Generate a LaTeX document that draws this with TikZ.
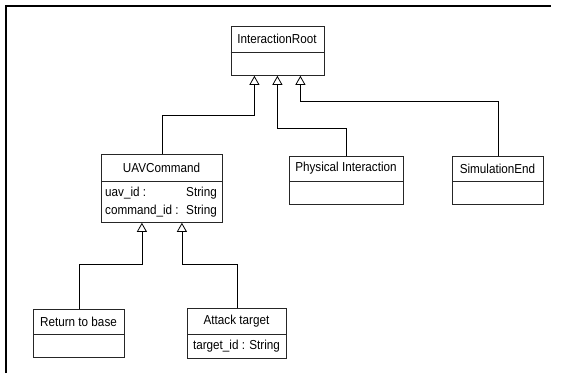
\documentclass[tikz,border=0pt]{standalone}
\usepackage{fontspec}
\setmainfont{Liberation Sans}
\usepackage{graphicx}
\usetikzlibrary{arrows.meta}
\newcommand\tx[1]{\scalebox{0.9}[1]{#1}}
\tikzset{
  cls/.style={draw=black!85, line width=0.8pt, rectangle, inner sep=0pt, anchor=north west},
  ttl/.style={inner sep=0pt, font=\fontsize{13}{15}\selectfont},
  attr/.style={inner sep=0pt, font=\fontsize{13}{15}\selectfont},
  inh/.style={draw=black, line width=0.8pt, -{Triangle[open, width=10pt, length=9pt, line width=0.8pt]}},
  comp/.style={draw=black!85, line width=0.8pt}
}
\begin{document}
\begin{tikzpicture}[x=1pt,y=-1pt]
\useasboundingbox (0,0) rectangle (561,373);
% frame
\draw[line width=2pt] (6,373) -- (6,6) -- (551,6);

% InteractionRoot
\node[cls, minimum width=93pt, minimum height=49pt] (root) at (230.5,26) {};
\node[ttl] (rootT) at (277,39) {\tx{InteractionRoot}};
\draw[comp] (230.5,52) -- (323.5,52);

% UAVCommand
\node[cls, minimum width=121pt, minimum height=68pt] (uav) at (101,154) {};
\node[ttl] (uavT) at (161.5,167.5) {\tx{UAVCommand}};
\draw[comp] (101,181) -- (222,181);
\node[attr, anchor=west] (uavA1) at (105,193.5) {\tx{uav\_id :}};
\node[attr, anchor=east] (uavA1t) at (217,193.5) {\tx{String}};
\node[attr, anchor=west] (uavA2) at (105,211) {\tx{command\_id :}};
\node[attr, anchor=east] (uavA2t) at (217,211) {\tx{String}};

% Physical Interaction
\node[cls, minimum width=114pt, minimum height=48pt] (phys) at (289,156) {};
\node[ttl] (physT) at (346,168.5) {\tx{Physical Interaction}};
\draw[comp] (289,181) -- (403,181);

% SimulationEnd
\node[cls, minimum width=91pt, minimum height=48pt] (sim) at (452,156) {};
\node[ttl] (simT) at (497.5,168.5) {\tx{SimulationEnd}};
\draw[comp] (452,181) -- (543,181);

% Return to base
\node[cls, minimum width=91pt, minimum height=48pt] (ret) at (33,309) {};
\node[ttl] (retT) at (78.5,321.5) {\tx{Return to base}};
\draw[comp] (33,334) -- (124,334);

% Attack target
\node[cls, minimum width=99pt, minimum height=50pt] (att) at (187,308) {};
\node[ttl] (attT) at (236.5,321) {\tx{Attack target}};
\draw[comp] (187,334) -- (286,334);
\node[attr] (attA) at (236.5,346.5) {\tx{target\_id : String}};

% inheritance connectors
\draw[inh] (uav.north) -- ++(0,-39) -| ([xshift=-23pt]root.south);
\draw[inh] (phys.north) -- ++(0,-28) -| (root.south);
\draw[inh] (sim.north) -- ++(0,-55) -| ([xshift=23pt]root.south);
\draw[inh] (ret.north) -- ++(0,-45) -| ([xshift=-20pt]uav.south);
\draw[inh] (att.north) -- ++(0,-44) -| ([xshift=20pt]uav.south);
\end{tikzpicture}
\end{document}
